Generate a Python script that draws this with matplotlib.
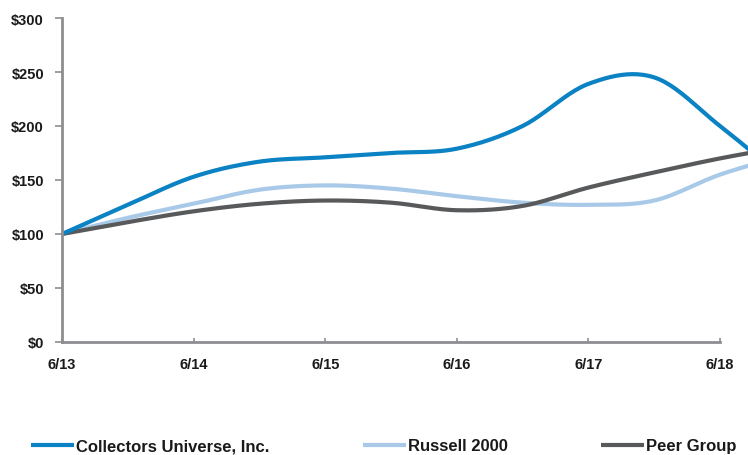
import numpy as np
import matplotlib
matplotlib.use("Agg")
import matplotlib.pyplot as plt

plt.rcParams['font.family'] = ['Liberation Sans', 'DejaVu Sans']
plt.rcParams['font.weight'] = 'bold'

# semi-annual readings, x in years after 6/13
periods = np.arange(0, 6, 0.5)
tick_labels = ['6/13', '6/14', '6/15', '6/16', '6/17', '6/18']
collectors = [100, 127, 153, 167, 171, 175, 179, 200, 239, 245, 200, 150]
russell = [100, 115, 128, 141, 145, 142, 135, 129, 127, 131, 155, 173]
peer = [100, 111, 121, 128, 131, 129, 122, 126, 143, 157, 170, 181]

blue = '#0a82c3'
light = '#a8cae8'
grey = '#58595b'
axis_grey = '#8d8e91'


def smooth(x, y, n=24):
    # catmull-rom curve through the points, like the office "smoothed line"
    x = np.asarray(x, float)
    y = np.asarray(y, float)
    m = np.gradient(y, x)
    xs, ys = [], []
    for i in range(len(x) - 1):
        h = x[i + 1] - x[i]
        t = np.linspace(0, 1, n, endpoint=False)
        h00 = 2 * t**3 - 3 * t**2 + 1
        h10 = t**3 - 2 * t**2 + t
        h01 = -2 * t**3 + 3 * t**2
        h11 = t**3 - t**2
        xs.append(x[i] + t * h)
        ys.append(h00 * y[i] + h10 * h * m[i] + h01 * y[i + 1] + h11 * h * m[i + 1])
    xs.append([x[-1]])
    ys.append([y[-1]])
    return np.concatenate(xs), np.concatenate(ys)


fig = plt.figure(figsize=(7.48, 4.56), dpi=100)
ax = fig.add_axes([62 / 748, 1 - 343 / 456, 1 - 62 / 748, (343 - 19) / 456])

for vals, col, lab in [(russell, light, 'Russell 2000'),
                       (peer, grey, 'Peer Group'),
                       (collectors, blue, 'Collectors Universe, Inc.')]:
    sx, sy = smooth(periods, vals)
    ax.plot(sx, sy, color=col, lw=3, solid_capstyle='butt', label=lab)

ax.set_xlim(0, 686 / 131.6)
ax.set_ylim(0, 300)
ax.set_xticks(range(6))
ax.set_xticklabels(tick_labels)
ax.set_yticks(range(0, 301, 50))
ax.set_yticklabels(['$%d' % v for v in range(0, 301, 50)])

for s in ['top', 'right']:
    ax.spines[s].set_visible(False)
for s in ['left', 'bottom']:
    ax.spines[s].set_color(axis_grey)
    ax.spines[s].set_linewidth(2)
ax.spines['bottom'].set_bounds(0, 5)
ax.tick_params(axis='y', direction='out', length=5, width=1.2, color=axis_grey,
               pad=8, labelsize=10.5, labelcolor='#1a1a1a')
ax.tick_params(axis='x', direction='in', length=3, width=1.2, color=axis_grey,
               pad=11, labelsize=10.5, labelcolor='#1a1a1a')

h, l = ax.get_legend_handles_labels()
order = [2, 0, 1]
leg = fig.legend([h[i] for i in order], [l[i] for i in order], ncol=3,
                 loc='center left', bbox_to_anchor=(31 / 748, 1 - 447 / 456),
                 frameon=False, fontsize=12, handlelength=2.6, handletextpad=0.1,
                 columnspacing=5.6, borderaxespad=0, borderpad=0)
for t in leg.get_texts():
    t.set_color('#1a1a1a')

fig.savefig('out.png', dpi=100)
